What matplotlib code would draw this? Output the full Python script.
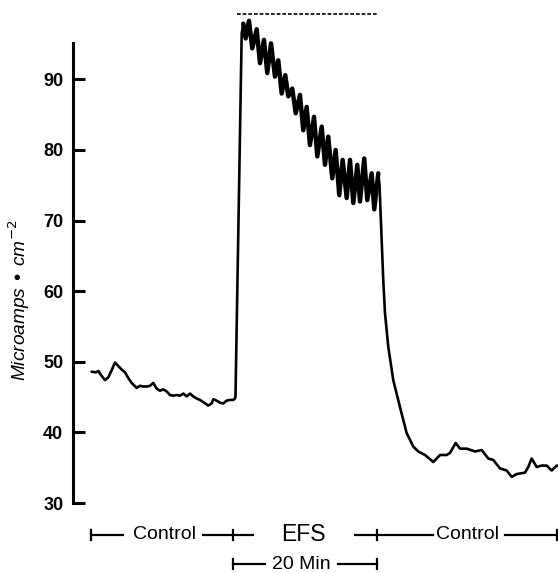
import matplotlib
matplotlib.use("Agg")
import matplotlib.pyplot as plt

plt.rcParams['font.family'] = ['Liberation Sans', 'DejaVu Sans']

# minutes, 0 = start of electrical field stimulation (EFS)
time_min = [
    -19.67, -19.07, -18.75, -18.28, -17.82, -17.36, -16.89, -16.43, -15.97, -15.50,
    -15.04, -14.58, -14.11, -13.42, -12.96, -12.50, -12.03, -11.57, -11.11, -10.64,
    -10.18, -9.72, -9.25, -8.79, -8.33, -7.86, -7.40, -6.94, -6.47, -6.01,
    -5.56, -5.08, -4.63, -4.17, -3.47, -3.00, -2.78, -2.31, -1.85, -1.39,
    -0.92, -0.46, 0.00, 0.24, 0.31, 1.17,
    1.39, 1.72, 2.18, 2.64, 3.25, 3.71, 4.26, 4.72, 5.24, 5.79,
    6.25, 6.72, 7.22, 7.64, 8.19, 8.67, 9.26, 9.72, 10.19, 10.65,
    11.21, 11.67, 12.28, 12.74, 13.19, 13.75, 14.22, 14.72, 15.19, 15.75,
    16.21, 16.67, 17.22, 17.60, 18.19, 18.61, 19.22, 19.58, 20.14,
    20.31, 20.58, 20.83, 21.07, 21.53, 22.22, 23.15, 24.08, 25.00, 25.69,
    26.63, 27.78, 28.71, 29.64, 30.10, 30.89, 31.49, 32.42, 33.57, 34.50,
    35.42, 36.11, 37.04, 37.97, 38.67, 39.36, 40.51, 40.97, 41.44, 42.14,
    42.83, 43.53, 44.22, 44.92, 45.40,
]
current = [
    48.6, 48.5, 48.7, 48.0, 47.4, 47.8, 48.8, 49.9, 49.4, 48.9,
    48.5, 47.7, 47.0, 46.3, 46.6, 46.5, 46.5, 46.6, 47.0, 46.2,
    45.9, 46.1, 45.8, 45.3, 45.2, 45.3, 45.2, 45.5, 45.1, 45.5,
    45.1, 44.8, 44.6, 44.3, 43.8, 44.1, 44.7, 44.5, 44.2, 44.1,
    44.5, 44.6, 44.6, 44.8, 45.2, 96.5,
    97.9, 95.8, 98.3, 94.4, 97.1, 92.3, 95.6, 90.9, 95.1, 90.4,
    92.7, 88.0, 90.6, 87.6, 88.7, 85.2, 87.8, 82.8, 86.1, 80.7,
    84.7, 79.1, 83.3, 77.9, 81.9, 76.0, 80.0, 73.6, 78.6, 73.2,
    78.6, 72.5, 77.9, 72.7, 78.8, 72.9, 76.7, 71.6, 76.7,
    75.0, 68.0, 61.6, 56.9, 52.1, 47.4, 43.6, 39.9, 38.0, 37.3,
    36.8, 35.8, 36.8, 36.8, 37.1, 38.5, 37.7, 37.7, 37.3, 37.5,
    36.3, 36.1, 34.9, 34.6, 33.7, 34.1, 34.3, 35.1, 36.3, 35.1,
    35.3, 35.3, 34.6, 35.3, 35.2,
]

peak_level = 99.2
peak_span = [0.47, 19.9]
yticks = [30, 40, 50, 60, 70, 80, 90]

fig = plt.figure(figsize=(5.58, 5.73), dpi=100)
ax = fig.add_axes([73 / 558, 1 - 503 / 573, 1 - 73 / 558, (503 - 8.8) / 573])

ax.plot(time_min, current, color='black', lw=1.9, solid_joinstyle='round',
        solid_capstyle='round', clip_on=False)
# the stimulated part of the trace is drawn heavier in the original
ax.plot(time_min[46:85], current[46:85], color='black', lw=3.2,
        solid_joinstyle='round', solid_capstyle='round', clip_on=False)
ax.plot(peak_span, [peak_level, peak_level], color='black', lw=1.2,
        dashes=(2.2, 1.2), clip_on=False)

ax.set_xlim(-22.26, 45.1)
ax.set_ylim(30, 100)

for s in ['top', 'right', 'bottom']:
    ax.spines[s].set_visible(False)
ax.spines['left'].set_linewidth(2.2)
ax.spines['left'].set_bounds(30, 95.16)
ax.set_xticks([])
ax.set_yticks(yticks)
ax.set_yticklabels([str(v) for v in yticks], fontsize=13, fontweight='bold')
ax.tick_params(axis='y', direction='in', length=8.5, width=2.2, pad=7)

fig.text(19 / 558, 1 - 300 / 573, 'Microamps • cm$^{-2}$', rotation=90,
         ha='center', va='center', fontsize=13.8, style='italic')

# time bars under the trace
yb1, yb2 = 25.5, 21.3
kw = dict(color='black', lw=1.6, clip_on=False)
def tick(x, y):
    ax.plot([x, x], [y - 0.7, y + 0.7], **kw)

ax.plot([-19.7, -15.3], [yb1, yb1], **kw)
ax.plot([-4.2, 2.8], [yb1, yb1], **kw)
tick(-19.7, yb1)
tick(0, yb1)
ax.text(-9.6, yb1, 'Control', ha='center', va='center', fontsize=14)
ax.text(9.8, yb1, 'EFS', ha='center', va='center', fontsize=16.5)
ax.plot([16.9, 27.8], [yb1, yb1], **kw)
ax.plot([37.8, 44.9], [yb1, yb1], **kw)
tick(20, yb1)
tick(44.9, yb1)
ax.text(32.6, yb1, 'Control', ha='center', va='center', fontsize=14)

ax.plot([0, 4.4], [yb2, yb2], **kw)
ax.plot([14.5, 20], [yb2, yb2], **kw)
tick(0, yb2)
tick(20, yb2)
ax.text(9.4, yb2, '20 Min', ha='center', va='center', fontsize=14)

fig.savefig('out.png', dpi=100)
